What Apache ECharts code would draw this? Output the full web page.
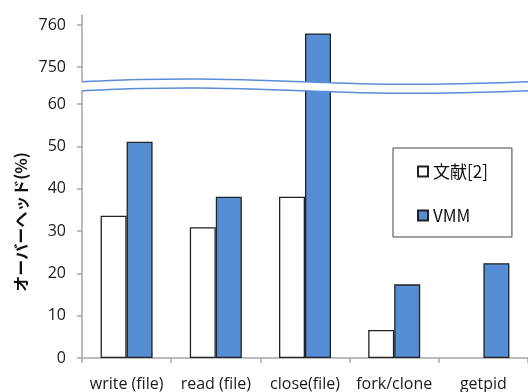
<!DOCTYPE html>
<html><head><meta charset="utf-8">
<script src="https://cdn.jsdelivr.net/npm/echarts@6/dist/echarts.min.js"></script>
<style>html,body{margin:0;padding:0;background:#fff}#c{width:528px;height:392px}</style>
</head><body><div id="c"></div>
<script>
var categories = ['write (file)', 'read (file)', 'close(file)', 'fork/clone', 'getpid'];
var refValues = [33.6, 30.9, 38.1, 6.6, '-'];
var vmmValues = [51.1, 38.1, 758, 17.4, 22.4];
var lowerTicks = [0, 10, 20, 30, 40, 50, 60];
var upperTicks = [750, 760];
var seriesNames = ['文献[2]', 'VMM'];
var yTitle = 'オーバーヘッド(%)';

var FONT = '"Open Sans", "Noto Sans CJK JP", sans-serif';
var BLUE = '#558ed5';
var BORDER = '#222';
var AXIS = '#a6a6a6';
var BREAK = '#5b8dd6';

var chart = echarts.init(document.getElementById('c'), null, {renderer: 'canvas'});

function upperOnly(arr) {
  return arr.map(function (v) { return (typeof v === 'number' && v > 700) ? v : '-'; });
}

var topPts = [[82,81.7],[140,79.5],[200,79],[250,80],[310,82],[360,83.7],[420,84.3],[480,83.3],[528,81.7]];
var botPts = topPts.map(function (p) { return [p[0], p[1] + 9]; });
var bandPts = topPts.concat(botPts.slice().reverse());

var axisLabelStyle = {color: '#1a1a1a', fontSize: 16, fontFamily: FONT};

chart.setOption({
  animation: false,
  backgroundColor: '#fff',
  grid: [
    {left: 82, width: 452, top: 86, height: 272},
    {left: 82, width: 452, top: 15, height: 71}
  ],
  xAxis: [
    {type: 'category', gridIndex: 0, data: categories,
     axisLine: {lineStyle: {color: AXIS, width: 1.5}},
     axisTick: {show: true, length: 5, lineStyle: {color: AXIS, width: 1.5}},
     axisLabel: Object.assign({margin: 18, interval: 0}, axisLabelStyle)},
    {type: 'category', gridIndex: 1, data: categories, show: false}
  ],
  yAxis: [
    {type: 'value', gridIndex: 0, min: 0, max: 64.25,
     name: yTitle, nameLocation: 'middle', nameRotate: 90, nameGap: 53,
     nameTextStyle: {fontSize: 16, fontWeight: 'bold', color: '#111', fontFamily: '"Noto Sans CJK JP", sans-serif'},
     axisLine: {show: true, lineStyle: {color: AXIS, width: 1.5}},
     axisTick: {show: true, length: 5, lineStyle: {color: AXIS, width: 1.5}, customValues: lowerTicks},
     axisLabel: Object.assign({margin: 16, customValues: lowerTicks}, axisLabelStyle),
     splitLine: {show: false}},
    {type: 'value', gridIndex: 1, min: 745.48, max: 762.38,
     axisLine: {show: true, lineStyle: {color: AXIS, width: 1.5}},
     axisTick: {show: true, length: 5, lineStyle: {color: AXIS, width: 1.5}, customValues: upperTicks},
     axisLabel: Object.assign({margin: 16, customValues: upperTicks}, axisLabelStyle),
     splitLine: {show: false}}
  ],
  legend: {
    data: seriesNames,
    orient: 'vertical',
    left: 393, top: 148,
    padding: [14, 24, 12, 24],
    itemWidth: 10, itemHeight: 10, itemGap: 25,
    borderColor: '#444', borderWidth: 1,
    icon: 'rect',
    textStyle: {fontSize: 17, lineHeight: 19, color: '#111', fontFamily: '"Noto Sans CJK JP", sans-serif'}
  },
  series: [
    {name: seriesNames[0], type: 'bar', xAxisIndex: 0, yAxisIndex: 0, data: refValues,
     barWidth: 26, barGap: '0%',
     itemStyle: {color: '#fff', borderColor: BORDER, borderWidth: 1.3}},
    {name: seriesNames[1], type: 'bar', xAxisIndex: 0, yAxisIndex: 0, data: vmmValues,
     barWidth: 26, barGap: '0%',
     itemStyle: {color: BLUE, borderColor: BORDER, borderWidth: 1.3}},
    {name: seriesNames[0], type: 'bar', xAxisIndex: 1, yAxisIndex: 1, data: upperOnly(refValues),
     barWidth: 26, barGap: '0%',
     itemStyle: {color: '#fff', borderColor: BORDER, borderWidth: 1.3}},
    {name: seriesNames[1], type: 'bar', xAxisIndex: 1, yAxisIndex: 1, data: upperOnly(vmmValues),
     barWidth: 26, barGap: '0%',
     itemStyle: {color: BLUE, borderColor: BORDER, borderWidth: 1.3}}
  ],
  graphic: [
    {type: 'polygon', z: 100, silent: true, shape: {points: bandPts, smooth: 0.3}, style: {fill: '#fff'}},
    {type: 'polyline', z: 101, silent: true, shape: {points: topPts, smooth: 0.3}, style: {stroke: BREAK, lineWidth: 1.5, fill: null}},
    {type: 'polyline', z: 101, silent: true, shape: {points: botPts, smooth: 0.3}, style: {stroke: BREAK, lineWidth: 1.5, fill: null}}
  ]
});
</script></body></html>
